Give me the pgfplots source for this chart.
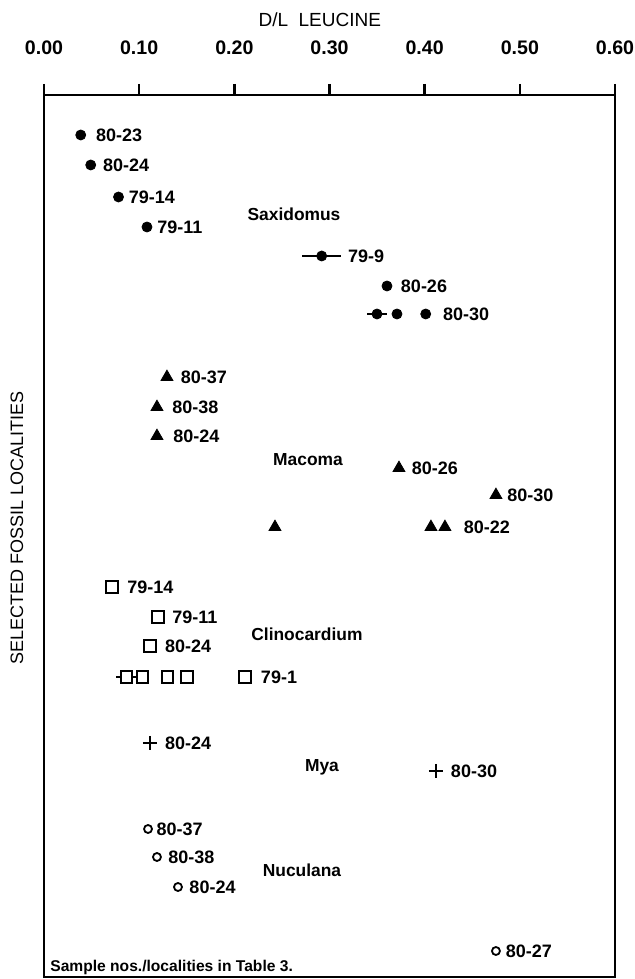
\documentclass[border=0pt]{standalone}
\usepackage{fontspec}
\setmainfont{Liberation Sans}
\usepackage{pgfplots}
\pgfplotsset{compat=1.18}
\begin{document}
\begin{tikzpicture}
\useasboundingbox (-22pt,-1pt) rectangle (295pt,488.5pt);
\begin{axis}[
  at={(0pt,0pt)}, anchor=south west,
  scale only axis, width=285.5pt, height=441pt,
  xmin=0, xmax=0.6, ymin=-977, ymax=-95,
  clip=false,
  xtick={0,0.1,0.2,0.3,0.4,0.5,0.6},
  xticklabels={0.00,0.10,0.20,0.30,0.40,0.50,0.60},
  xtick pos=upper, xticklabel pos=upper,
  tick align=outside, major tick length=5.5pt,
  ytick=\empty,
  axis line style={line width=1.2pt},
  every tick/.style={black, line width=1.2pt},
  xticklabel style={font=\fontsize{9.8}{12}\selectfont\bfseries, anchor=south},
  xticklabel shift=11pt,
  xlabel={D/L\ \ LEUCINE},
  xlabel style={at={(axis description cs:0.483,1)}, anchor=center, yshift=37.5pt, font=\fontsize{9.5}{11}\selectfont},
  ylabel={SELECTED FOSSIL LOCALITIES},
  ylabel style={at={(axis description cs:-0.0473,0.509)}, anchor=center, font=\fontsize{9}{11}\selectfont},
  every node near coord/.style={anchor=west, inner sep=0pt, xshift=\dx pt, font=\fontsize{9}{11}\selectfont\bfseries, black},
  error bars/error bar style={line width=1.1pt, black},
  error bars/error mark=none,
]
% error bars drawn first, below the marks
\addplot[draw=none, mark=none, forget plot,
  error bars/.cd, x dir=both, x explicit]
  table[x=x, y=y, x error=ex] {
x y ex
0.2918 -256 0.0205
0.3499 -314 0.0105
0.0869 -677 0.0112
};
% Saxidomus
\addplot[only marks, mark=*, mark size=2.5pt, black,
  nodes near coords, point meta=explicit symbolic,
  visualization depends on={value \thisrow{dx} \as \dx}]
  table[x=x, y=y, meta=lab] {
x y dx lab
0.0386 -135 7.5 80-23
0.0491 -165 6 80-24
0.0783 -197 5 79-14
0.1082 -227 5 79-11
0.2918 -256 13 79-9
0.3604 -286 6.8 80-26
0.3499 -314 0 {}
0.3709 -314 0 {}
0.4011 -314 8.5 80-30
};
% Macoma
\addplot[only marks, mark=triangle*, mark size=3.4pt, black,
  nodes near coords, point meta=explicit symbolic,
  visualization depends on={value \thisrow{dx} \as \dx}]
  table[x=x, y=y, meta=lab] {
x y dx lab
0.1292 -377 6.8 80-37
0.1187 -407 7.5 80-38
0.1187 -436 8 80-24
0.3730 -468 6.3 80-26
0.4749 -495 5.5 80-30
0.2427 -527 0 {}
0.4066 -527 0 {}
0.4213 -527 9.3 80-22
};
% Clinocardium
\addplot[only marks, mark=square*, mark size=2.8pt, black, line width=1pt,
  mark options={fill=white, draw=black},
  nodes near coords, point meta=explicit symbolic,
  visualization depends on={value \thisrow{dx} \as \dx}]
  table[x=x, y=y, meta=lab] {
x y dx lab
0.0715 -587 7.2 79-14
0.1198 -617 6.7 79-11
0.1114 -646 7 80-24
0.0869 -677 0 {}
0.1033 -677 0 {}
0.1296 -677 0 {}
0.1502 -677 0 {}
0.2112 -677 7.5 79-1
};
% Mya
\addplot[only marks, mark=+, mark size=3.6pt, black, line width=1pt,
  nodes near coords, point meta=explicit symbolic,
  visualization depends on={value \thisrow{dx} \as \dx}]
  table[x=x, y=y, meta=lab] {
x y dx lab
0.1114 -743 7 80-24
0.4119 -771 7 80-30
};
% Nuculana
\addplot[only marks, mark=o, mark size=2pt, black, line width=0.9pt,
  nodes near coords, point meta=explicit symbolic,
  visualization depends on={value \thisrow{dx} \as \dx}]
  table[x=x, y=y, meta=lab] {
x y dx lab
0.1093 -829 3.8 80-37
0.1187 -857 5.3 80-38
0.1408 -887 5.3 80-24
0.4749 -951 4.5 80-27
};
\begin{scope}[every node/.style={font=\fontsize{8.7}{10}\selectfont\bfseries, inner sep=0pt}]
\node at (axis cs:0.2627,-214) {Saxidomus};
\node at (axis cs:0.2774,-460) {Macoma};
\node at (axis cs:0.2763,-634) {Clinocardium};
\node at (axis cs:0.2921,-767) {Mya};
\node at (axis cs:0.2711,-870) {Nuculana};
\node[anchor=west, font=\fontsize{7.8}{9}\selectfont\bfseries] at (axis cs:0.0063,-967) {Sample nos./localities in Table 3.};
\end{scope}
\end{axis}
\end{tikzpicture}
\end{document}
